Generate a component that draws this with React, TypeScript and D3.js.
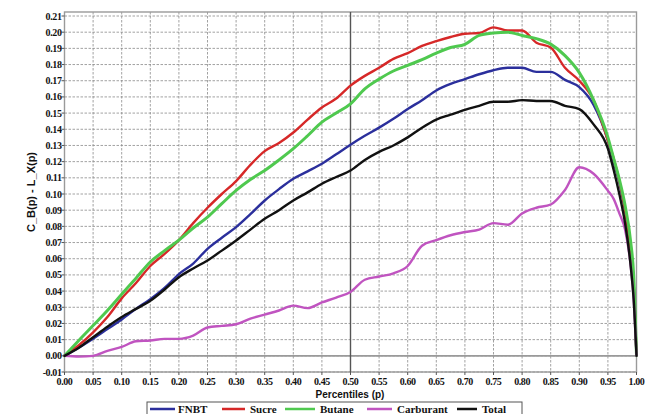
import React from "react";
import * as d3 from "d3";

// Percentile grid shared by all series
const P = [
  0, 0.025, 0.05, 0.075, 0.1, 0.125, 0.15, 0.175, 0.2, 0.225, 0.25, 0.275, 0.3, 0.325, 0.35, 0.375,
  0.4, 0.425, 0.45, 0.475, 0.5, 0.525, 0.55, 0.575, 0.6, 0.625, 0.65, 0.675, 0.7, 0.725, 0.75, 0.775,
  0.8, 0.825, 0.85, 0.875, 0.9, 0.925, 0.95, 0.96, 0.97, 0.98, 0.99, 0.995, 1.0,
];

const FNBT = [
  0, 0.005, 0.0105, 0.0165, 0.0225, 0.029, 0.035, 0.042, 0.0505, 0.057, 0.0661, 0.073, 0.0795, 0.0875, 0.096, 0.103,
  0.1094, 0.114, 0.1187, 0.1245, 0.1305, 0.136, 0.141, 0.1465, 0.1525, 0.158, 0.164, 0.168, 0.171, 0.174, 0.1765, 0.178,
  0.178, 0.1755, 0.1755, 0.1705, 0.166, 0.155, 0.133, 0.12, 0.107, 0.09, 0.065, 0.045, 0,
];

const SUCRE = [
  0, 0.0065, 0.0145, 0.024, 0.0355, 0.045, 0.0555, 0.063, 0.0715, 0.082, 0.0915, 0.1, 0.108, 0.118, 0.1265, 0.1315,
  0.138, 0.146, 0.1535, 0.159, 0.167, 0.173, 0.178, 0.1835, 0.187, 0.1915, 0.1945, 0.197, 0.199, 0.1995, 0.203, 0.201,
  0.201, 0.1935, 0.1905, 0.178, 0.17, 0.158, 0.133, 0.122, 0.108, 0.09, 0.064, 0.045, 0,
];

const BUTANE = [
  0, 0.0095, 0.0187, 0.028, 0.038, 0.048, 0.058, 0.065, 0.0715, 0.079, 0.0857, 0.094, 0.1022, 0.109, 0.1145, 0.121,
  0.128, 0.136, 0.1444, 0.15, 0.1557, 0.165, 0.171, 0.176, 0.1795, 0.183, 0.187, 0.1905, 0.1925, 0.198, 0.1995, 0.2,
  0.198, 0.196, 0.1926, 0.1855, 0.175, 0.158, 0.135, 0.122, 0.109, 0.093, 0.07, 0.05, 0,
];

const CARBURANT = [
  0, -0.0005, 0, 0.003, 0.0055, 0.009, 0.0095, 0.0105, 0.0105, 0.0125, 0.0175, 0.0185, 0.0195, 0.023, 0.0255, 0.028,
  0.031, 0.0295, 0.033, 0.036, 0.0395, 0.047, 0.049, 0.051, 0.0555, 0.068, 0.0715, 0.0745, 0.0765, 0.078, 0.082, 0.081,
  0.088, 0.0915, 0.0935, 0.1025, 0.1165, 0.1125, 0.102, 0.097, 0.088, 0.078, 0.055, 0.035, 0,
];

const TOTAL = [
  0, 0.005, 0.0115, 0.018, 0.024, 0.029, 0.034, 0.041, 0.0486, 0.054, 0.0589, 0.065, 0.0713, 0.078, 0.0847, 0.09,
  0.096, 0.101, 0.1063, 0.1105, 0.1145, 0.121, 0.126, 0.13, 0.135, 0.141, 0.146, 0.149, 0.152, 0.1545, 0.157, 0.157,
  0.158, 0.1575, 0.1575, 0.1545, 0.1525, 0.143, 0.128, 0.115, 0.1, 0.082, 0.055, 0.035, 0,
];

const SERIES_NAMES = ["FNBT", "Sucre", "Butane", "Carburant", "Total"];
const SERIES_VALUES = [FNBT, SUCRE, BUTANE, CARBURANT, TOTAL];
const SERIES_COLORS = ["#2b2f9c", "#d62828", "#4fc94f", "#c054c0", "#111111"];
const SERIES_WIDTHS = [2.4, 2.4, 3, 2.4, 2.4];

const X_TICKS = d3.range(0, 21).map((i) => i * 0.05);
const Y_TICKS = d3.range(-1, 22).map((i) => i * 0.01);

const W = 658;
const H = 414;
const left = 64.5;
const right = 636.5;
const top = 16;
const bottom = 372;

export default function App() {
  const x = d3.scaleLinear().domain([0, 1]).range([left, right]);
  const y = d3.scaleLinear().domain([-0.01, 0.21]).range([bottom, top]);
  const line = d3
    .line<[number, number]>()
    .x((d) => x(d[0]))
    .y((d) => y(d[1]))
    .curve(d3.curveMonotoneX);

  const tickFont = "'Liberation Serif', 'Times New Roman', serif";
  const titleFont = "'Liberation Sans', Arial, sans-serif";

  const legendItems = [
    { lx: 150, tx: 178 },
    { lx: 222, tx: 250 },
    { lx: 285, tx: 320 },
    { lx: 367, tx: 397 },
    { lx: 457, tx: 482 },
  ];
  const legendLen = [25, 23, 30, 25, 20];

  return (
    <svg
      width={W}
      height={H}
      viewBox={`0 0 ${W} ${H}`}
      style={{ position: "absolute", left: 0, top: 0, background: "#fff" }}
    >
      {/* grid */}
      <g stroke="#8a8a8a" strokeWidth={0.8} strokeDasharray="2.5,1.5">
        {X_TICKS.slice(1, -1).map((t) => (
          <line key={"gx" + t} x1={x(t)} x2={x(t)} y1={12} y2={bottom} />
        ))}
        {Y_TICKS.map((t) => (
          <line key={"gy" + t} x1={left} x2={right} y1={y(t)} y2={y(t)} />
        ))}
      </g>
      {/* frame and reference lines */}
      <rect x={left} y={12} width={right - left} height={bottom - 12} fill="none" stroke="#9a9a9a" strokeWidth={1.4} />
      <line x1={left} x2={right} y1={y(0)} y2={y(0)} stroke="#9a9a9a" strokeWidth={1.8} />
      <line x1={x(0.5)} x2={x(0.5)} y1={12} y2={bottom} stroke="#555" strokeWidth={1.4} />

      {/* ticks */}
      <g stroke="#555" strokeWidth={1}>
        {Y_TICKS.map((t) => (
          <line key={"ty" + t} x1={left - 3} x2={left} y1={y(t)} y2={y(t)} />
        ))}
        {X_TICKS.map((t) => (
          <line key={"tx" + t} x1={x(t)} x2={x(t)} y1={bottom} y2={bottom + 3} />
        ))}
      </g>

      {/* tick labels */}
      <g fontFamily={tickFont} fontWeight="bold" fontSize={10} fill="#111">
        {Y_TICKS.map((t) => (
          <text key={"ly" + t} x={left - 3} y={y(t)} dy="0.35em" textAnchor="end" letterSpacing={-0.4}>
            {d3.format(".2f")(t).replace("−", "-")}
          </text>
        ))}
        {X_TICKS.map((t) => (
          <text key={"lx" + t} x={x(t)} y={bottom + 13} textAnchor="middle" letterSpacing={-0.4}>
            {d3.format(".2f")(t)}
          </text>
        ))}
      </g>

      {/* axis titles */}
      <text x={350} y={398} textAnchor="middle" fontFamily={titleFont} fontWeight="bold" fontSize={10} fill="#111">
        Percentiles (p)
      </text>
      <text
        transform={`translate(35, 192) rotate(-90)`}
        textAnchor="middle"
        fontFamily={titleFont}
        fontWeight="bold"
        fontSize={11}
        fill="#111"
      >
        C_B(p) - L_X(p)
      </text>

      {/* series */}
      <g fill="none" strokeLinejoin="round" strokeLinecap="round">
        {SERIES_VALUES.map((vals, i) => (
          <path
            key={SERIES_NAMES[i]}
            d={line(P.map((p, j) => [p, vals[j]] as [number, number])) || ""}
            stroke={SERIES_COLORS[i]}
            strokeWidth={SERIES_WIDTHS[i]}
          />
        ))}
      </g>

      {/* legend */}
      <rect x={147} y={402} width={375} height={20} fill="#fff" stroke="#555" strokeWidth={1} />
      <g fontFamily={tickFont} fontWeight="bold" fontSize={11} fill="#111">
        {SERIES_NAMES.map((name, i) => (
          <g key={"lg" + name}>
            <line
              x1={legendItems[i].lx}
              x2={legendItems[i].lx + legendLen[i]}
              y1={409}
              y2={409}
              stroke={SERIES_COLORS[i]}
              strokeWidth={2.5}
            />
            <text x={legendItems[i].tx} y={412.5}>
              {name}
            </text>
          </g>
        ))}
      </g>
    </svg>
  );
}
